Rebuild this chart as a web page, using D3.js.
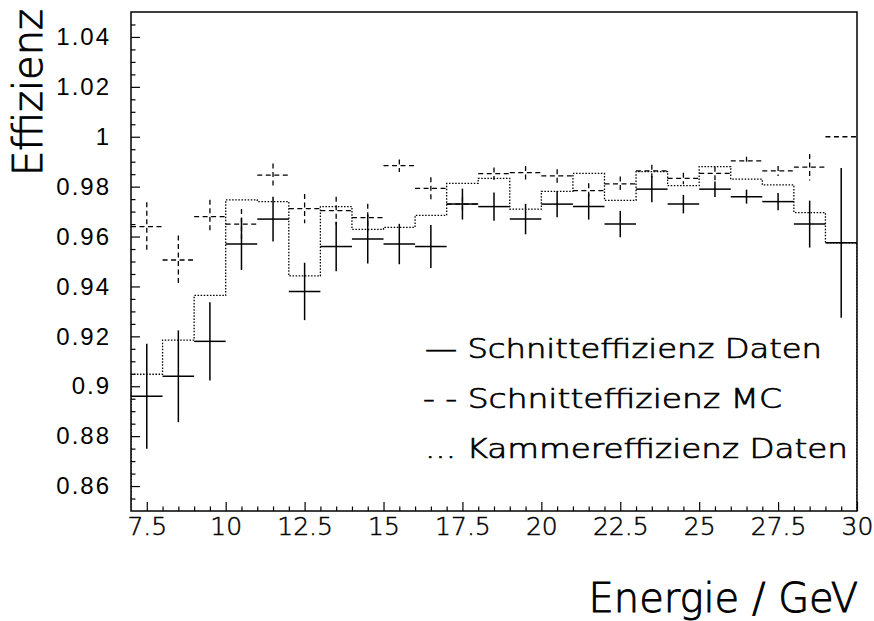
<!DOCTYPE html>
<html>
<head>
<meta charset="utf-8">
<script src="https://cdn.jsdelivr.net/npm/d3@7"></script>
<style>
  html, body { margin: 0; padding: 0; background: #fff; }
  svg { display: block; }
</style>
</head>
<body>
<svg id="chart" width="874" height="621"></svg>
<script>
// Energy bins (GeV), 1 GeV wide
const binCenters = [7.5, 8.5, 9.5, 10.5, 11.5, 12.5, 13.5, 14.5, 15.5, 16.5, 17.5, 18.5,
                    19.5, 20.5, 21.5, 22.5, 23.5, 24.5, 25.5, 26.5, 27.5, 28.5, 29.5];
const binWidth = 1;

// Schnitteffizienz Daten (solid crosses)
const dataEff = [0.896, 0.904, 0.918, 0.957, 0.967, 0.938, 0.956, 0.959, 0.957, 0.956, 0.973, 0.972,
                 0.967, 0.973, 0.972, 0.965, 0.979, 0.973, 0.979, 0.976, 0.974, 0.965, 0.9575];
const dataErr = [0.021, 0.0184, 0.0157, 0.0104, 0.009, 0.0115, 0.0099, 0.0098, 0.0081, 0.0086, 0.0062, 0.0057,
                 0.0061, 0.0053, 0.0052, 0.0053, 0.0053, 0.0037, 0.0031, 0.0028, 0.0035, 0.0094, 0.030];

// Schnitteffizienz MC (dashed crosses)
const mcEff = [0.964, 0.9506, 0.968, 0.965, 0.9846, 0.9712, 0.9704, 0.9676, 0.9884, 0.9793, 0.973, 0.9852,
               0.9856, 0.9843, 0.9784, 0.9811, 0.9863, 0.9833, 0.9853, 0.9903, 0.9863, 0.9878, 1.0];
const mcErr = [0.0097, 0.0098, 0.0067, 0.006, 0.0047, 0.0059, 0.0056, 0.0055, 0.0025, 0.0045, 0.003, 0.0025,
               0.0027, 0.0027, 0.003, 0.003, 0.0025, 0.0023, 0.0027, 0.0017, 0.002, 0.0053, 0];

// Kammereffizienz Daten (dotted histogram)
const chamberEff = [0.9048, 0.9185, 0.9364, 0.9747, 0.974, 0.9442, 0.972, 0.9629, 0.9637, 0.9685, 0.9813, 0.9833,
                    0.971, 0.9781, 0.9853, 0.9745, 0.986, 0.9804, 0.988, 0.983, 0.9807, 0.9696, 0.9575];

// Axis ticks and labels
const xTicks = [7.5, 10, 12.5, 15, 17.5, 20, 22.5, 25, 27.5, 30];
const xTickLabels = ["7.5", "10", "12.5", "15", "17.5", "20", "22.5", "25", "27.5", "30"];
const yTicks = [0.86, 0.88, 0.9, 0.92, 0.94, 0.96, 0.98, 1.0, 1.02, 1.04];
const yTickLabels = ["0.86", "0.88", "0.9", "0.92", "0.94", "0.96", "0.98", "1", "1.02", "1.04"];

const legendLabels = ["\u2014 Schnitteffizienz Daten", "- - Schnitteffizienz MC", "... Kammereffizienz Daten"];
const xTitle = "Energie / GeV";
const yTitle = "Effizienz";

// Layout
const frame = { left: 131, top: 12, right: 857, bottom: 511 };
const svg = d3.select("#chart");

const x = d3.scaleLinear().domain([7, 30]).range([frame.left, frame.right]);
const y = d3.scaleLinear().domain([0.85, 1.05]).range([frame.bottom, frame.top]);

const xMinor = d3.range(7.5, 30.01, 0.5).filter(v => Math.abs((v / 2.5) - Math.round(v / 2.5)) > 1e-6);
const yMinor = d3.range(0.85, 1.0501, 0.005).filter(v => Math.abs((v / 0.02) - Math.round(v / 0.02)) > 1e-6 && v > 0.8501 && v < 1.0499);

// Thin line-style lettering, slightly thickened with an outline stroke
const thinFont = "'DejaVu Sans', sans-serif";
const thinWeight = 200;
function thinText(sel, size, outline) {
  return sel.attr("font-family", thinFont).attr("font-weight", thinWeight)
    .attr("font-size", size).attr("fill", "#000")
    .attr("stroke", "#000").attr("stroke-width", outline);
}

// Bottom axis: major ticks with labels, minor ticks without
const gx = svg.append("g").attr("transform", `translate(0,${frame.bottom})`)
  .call(d3.axisBottom(x).tickValues(xTicks).tickSizeInner(-9).tickSizeOuter(0).tickPadding(6)
    .tickFormat((d, i) => xTickLabels[i]));
svg.append("g").attr("transform", `translate(0,${frame.bottom})`)
  .call(d3.axisBottom(x).tickValues(xMinor).tickSizeInner(-4.5).tickSizeOuter(0).tickFormat(""));

// Left axis
const gy = svg.append("g").attr("transform", `translate(${frame.left},0)`)
  .call(d3.axisLeft(y).tickValues(yTicks).tickSizeInner(-9).tickSizeOuter(0).tickPadding(20)
    .tickFormat((d, i) => yTickLabels[i]));
svg.append("g").attr("transform", `translate(${frame.left},0)`)
  .call(d3.axisLeft(y).tickValues(yMinor).tickSizeInner(-4.5).tickSizeOuter(0).tickFormat(""));

svg.selectAll(".domain").remove();
svg.selectAll(".tick line").attr("stroke", "#000").attr("stroke-width", 1.2);

thinText(gx.selectAll(".tick text"), 25, 0.5);
gy.selectAll(".tick text")
  .attr("font-family", "'Liberation Sans', Arial, sans-serif").attr("font-size", 24)
  .attr("letter-spacing", "2px").attr("fill", "#000");

// Frame
svg.append("rect")
  .attr("x", frame.left).attr("y", frame.top)
  .attr("width", frame.right - frame.left).attr("height", frame.bottom - frame.top)
  .attr("fill", "none").attr("stroke", "#000").attr("stroke-width", 1.5);

const plot = svg.append("g");
svg.append("clipPath").attr("id", "clip").append("rect")
  .attr("x", frame.left).attr("y", frame.top)
  .attr("width", frame.right - frame.left).attr("height", frame.bottom - frame.top);
plot.attr("clip-path", "url(#clip)");

// Dotted histogram outline for the chamber efficiency
const histPts = [[7, 0.85]];
binCenters.forEach((c, i) => {
  histPts.push([c - binWidth / 2, chamberEff[i]]);
  histPts.push([c + binWidth / 2, chamberEff[i]]);
});
histPts.push([30, 0.85]);
plot.append("path")
  .attr("d", d3.line().x(d => x(d[0])).y(d => y(d[1]))(histPts))
  .attr("fill", "none").attr("stroke", "#000").attr("stroke-width", 1.3)
  .attr("stroke-dasharray", "1.5,1.6");

// Cross markers: horizontal bar over the bin, vertical error bar
function drawCrosses(values, errors, dash, width) {
  const g = plot.append("g").attr("stroke", "#000").attr("stroke-width", width).attr("fill", "none");
  if (dash) g.attr("stroke-dasharray", dash);
  binCenters.forEach((c, i) => {
    g.append("line")
      .attr("x1", x(c - binWidth / 2)).attr("x2", x(c + binWidth / 2))
      .attr("y1", y(values[i])).attr("y2", y(values[i]));
    if (errors[i] > 0) {
      g.append("line")
        .attr("x1", x(c)).attr("x2", x(c))
        .attr("y1", y(values[i] + errors[i])).attr("y2", y(values[i] - errors[i]));
    }
  });
}
drawCrosses(mcEff, mcErr, "5,3.5", 1.3);
drawCrosses(dataEff, dataErr, null, 1.5);

// Legend
const legendRows = [
  { x: 425, y: 358, len: 397 },
  { x: 423, y: 408, len: 359 },
  { x: 425, y: 458, len: 423 }
];
legendLabels.forEach((t, i) => {
  thinText(svg.append("text"), 27, 0.7)
    .attr("x", legendRows[i].x).attr("y", legendRows[i].y)
    .attr("textLength", legendRows[i].len).attr("lengthAdjust", "spacingAndGlyphs")
    .text(t);
});

// Axis titles
thinText(svg.append("text"), 40, 0.9)
  .attr("x", 858).attr("y", 612)
  .attr("text-anchor", "end")
  .text(xTitle);

thinText(svg.append("text"), 40, 0.9)
  .attr("transform", "translate(42,176) rotate(-90)")
  .attr("text-anchor", "start")
  .text(yTitle);
</script>
</body>
</html>
